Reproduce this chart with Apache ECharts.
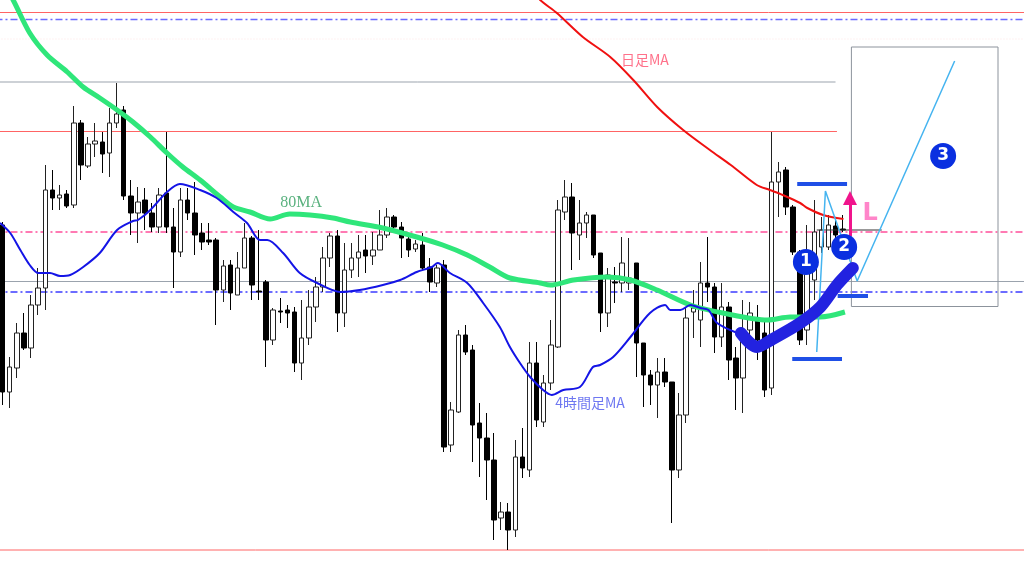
<!DOCTYPE html>
<html><head><meta charset="utf-8">
<script src="https://cdn.jsdelivr.net/npm/echarts@6/dist/echarts.min.js"></script>
<style>html,body{margin:0;padding:0;background:#fff}#c{width:1024px;height:576px}</style>
</head><body><div id="c"></div>
<script>
// Price axis is drawn inverted: values are "depth below the top reference" (larger = lower price).
const opens  = [225,392,368,333,348,305,288,190,198,194,205,123,166,144,142,153,123,110,196,213,200,213,227,193,227,252,200,213,233,240,240,290,265,295,268,238,291,282,340,311,310,312,363,338,307,287,258,236,313,270,258,250,256,250,235,217,227,239,249,245,267,283,265,445,412,335,350,423,438,460,518,512,530,457,470,363,422,383,347,212,197,235,223,215,253,313,282,283,283,263,343,375,385,372,382,470,415,312,320,283,287,337,307,358,378,330,318,333,388,182,170,207,252,330,280,247,247,226,229];
const closes = [392,367,333,348,305,288,190,198,195,206,123,165,144,141,154,123,114,196,213,202,213,227,195,227,252,200,213,235,242,242,290,266,293,268,238,285,292,340,310,312,313,363,338,307,287,258,236,313,270,258,252,256,250,235,217,227,238,250,244,268,282,268,447,410,335,352,425,438,460,520,512,530,457,468,363,420,383,345,210,197,233,223,215,255,313,275,283,263,278,343,375,385,372,382,470,415,318,308,283,287,337,307,360,378,332,313,340,390,182,172,207,252,340,270,232,230,225,235,230];
const highs  = [222,357,323,313,295,268,165,170,185,190,106,120,137,123,132,108,83,106,180,187,188,203,188,132,208,188,188,182,223,223,238,260,260,252,223,236,230,280,308,298,305,307,300,290,277,247,233,230,243,243,235,235,232,210,208,215,222,233,240,233,258,265,260,402,330,325,345,403,413,433,502,503,440,428,342,342,375,320,200,180,183,200,212,215,253,268,267,237,238,263,343,370,358,358,382,393,307,290,262,237,283,283,302,347,300,302,305,320,132,162,167,205,250,225,200,217,215,217,215];
const lows   = [405,408,378,350,358,315,310,210,210,208,208,180,168,157,173,177,128,200,235,243,230,232,233,233,288,257,220,255,250,245,325,302,310,295,268,300,300,367,345,323,328,372,380,345,322,292,267,332,327,278,277,273,265,250,238,233,258,257,252,270,292,287,452,452,413,355,462,477,500,540,530,550,537,478,477,427,427,390,348,220,270,260,238,258,332,327,303,292,290,377,407,405,418,387,523,478,423,338,347,302,353,347,380,410,413,347,360,397,395,217,215,255,345,345,300,253,250,240,232];

// Moving averages: [bar index, level]
const ma80 = [[-0.35,-22],[1.48,0],[3.81,33],[6.25,55],[9.08,72],[11.32,87],[13.65,98],[16.08,110],[18.31,122],[20.75,137],[23.08,153],[25.31,167],[27.74,180],[30.58,197],[32.41,207],[34.74,212],[37.58,219],[40.32,214],[43.16,215],[46.4,218],[48.84,222],[53.4,228],[58.16,237],[61.81,245],[65.26,255],[68.41,267],[71.25,278],[75.5,283],[76.92,285],[80.17,280],[84.84,277],[88.18,280],[91.93,290],[96.6,305],[101.16,313],[107.45,320],[110.59,317],[114.85,317],[118.3,312]];
const ma4h = [[-0.35,223],[1.07,233],[2.49,250],[3.81,265],[5.03,273],[6.65,273],[8.07,276],[9.49,275],[11.32,267],[13.65,253],[16.08,230],[18.31,221],[19.02,220],[20.75,210],[23.08,192],[24.9,184],[27.74,190],[30.07,198],[32.41,212],[34.33,223],[36.16,240],[37.17,240],[39.4,253],[41.74,273],[44.17,283],[47.42,292],[50.15,290],[53.4,285],[55.83,280],[58.16,272],[60.29,267],[61.1,263],[62.83,273],[65.26,283],[67.49,303],[69.83,327],[71.25,347],[72.66,363],[74.09,377],[75.91,390],[77.13,395],[78.75,390],[81.08,387],[82.91,367],[83.92,365],[85.75,357],[88.18,337],[90.92,313],[93.05,305],[93.76,310],[95.18,310],[96.6,305],[98.01,308],[99.13,310],[100.35,323],[103.19,333]];
const maDaily = [[75.2,-5],[75.5,0],[77.84,13],[81.49,37],[85.34,57],[88.58,80],[91.93,107],[95.58,130],[99.33,150],[102.27,165],[105.92,185],[107.75,190],[109.57,195],[112.01,203],[113.02,208],[115.25,215],[118.09,219]];

// Horizontal levels: [level, fromIndex, toIndex, colour, style]
const levels = [
  [12.5, -1, 145, '#ff6464', 'solid'],
  [19.5, -1, 145, '#6a6aff', 'dashdot'],
  [39, -1, 145, '#ffe4e4', 'dotted'],
  [82, -1, 116.98, '#9ba3ad', 'solid'],
  [131.5, -1, 117.18, '#ff6464', 'solid'],
  [232, -1, 145, '#ff4f9a', 'dashdot'],
  [281.5, -1, 145, '#9ba3ad', 'solid'],
  [292, -1, 145, '#3c3cff', 'dashdot'],
  [550, -1, 145, '#ff6464', 'solid']
];

// Annotations
const boxPath = [[119.21,47],[139.8,47],[139.8,306.5],[119.21,306.5],[119.21,47]];
const scenario = [[114.34,352],[115.56,191],[120.02,281],[133.71,61]];
const trendStroke = [[103.69,333],[105.92,347],[108.16,339],[112.01,323],[114.85,307],[117.18,285],[119.41,268]];
const bars = [[184,111.6,118.6],[296,117.28,121.54],[359,110.9,117.89]];
const lastPrice = [230, 114.34, 123.47];
const marks = [['1',112.82,262],['2',118.19,247],['3',132.09,156]];
const arrow = [[119.01,236],[119.01,198]];
const labels = [['日足MA',90.21,60,'#ff4d6d',14,'Noto Sans CJK JP'],['80MA',41.94,203,'#2f9e5e',16,'Liberation Serif'],['4時間足MA',82.5,403,'#4a55ee',14,'Noto Sans CJK JP'],['L',121.84,214,'#ff66bb',24,'DejaVu Sans']];

const candleData = opens.map((o,i)=>[i,o,closes[i],highs[i],lows[i]]);
const dashMap = {solid:'solid',dashdot:[7,3,2,3],dotted:[1,2]};
const series = [];
levels.forEach(l=>{
  series.push({type:'line',data:[[l[1],l[0]],[l[2],l[0]]],symbol:'none',silent:true,z:1,
    lineStyle:{color:l[3],width:l[4]==='dashdot'?1.3:1,type:dashMap[l[4]]}});
});
series.push({type:'candlestick',data:candleData,encode:{x:0,y:[1,2,3,4]},barWidth:5,z:3,
  itemStyle:{color:'#000',color0:'#fff',borderColor:'#000',borderColor0:'#222',borderWidth:1}});
series.push({type:'line',data:ma80,symbol:'none',smooth:0.3,z:4,lineStyle:{color:'#2fe67a',width:5}});
series.push({type:'line',data:ma4h,symbol:'none',smooth:0.3,z:5,lineStyle:{color:'#1414e6',width:2}});
series.push({type:'line',data:maDaily,symbol:'none',smooth:0.3,z:5,lineStyle:{color:'#f01010',width:2}});
series.push({type:'line',data:boxPath,symbol:'none',z:6,lineStyle:{color:'#8c939c',width:1}});
series.push({type:'line',data:[[lastPrice[1],lastPrice[0]],[lastPrice[2],lastPrice[0]]],symbol:'none',z:6,lineStyle:{color:'#333',width:1}});
series.push({type:'line',data:scenario,symbol:'none',z:7,lineStyle:{color:'#45b4f0',width:1.5}});
series.push({type:'line',data:trendStroke,symbol:'none',smooth:0.3,z:8,lineStyle:{color:'#2222e0',width:12,cap:'round',join:'round'}});
bars.forEach(b=>{
  series.push({type:'line',data:[[b[1],b[0]],[b[2],b[0]]],symbol:'none',z:8,lineStyle:{color:'#1f4fe6',width:4}});
});
series.push({type:'lines',coordinateSystem:'cartesian2d',z:9,symbol:['none','triangle'],symbolSize:[13,14],
  data:[{coords:arrow}],lineStyle:{color:'#f0148c',width:3,opacity:1}});
series.push({type:'scatter',z:10,symbol:'circle',symbolSize:26,
  itemStyle:{color:'#0a2fe0',opacity:1},
  data:marks.map(m=>({value:[m[1],m[2]],name:m[0]})),
  label:{show:true,position:'inside',formatter:p=>p.name,
    color:'#fff',fontSize:17,fontWeight:'bold',fontFamily:'DejaVu Sans'}});
series.push({type:'scatter',z:10,symbolSize:0,
  data:labels.map(t=>({value:[t[1],t[2]],name:t[0],label:{color:t[3],fontSize:t[4],fontFamily:t[5],fontWeight:t[0]==='L'?'bold':'normal'}})),
  label:{show:true,position:'inside',formatter:p=>p.name}});

const chart = echarts.init(document.getElementById('c'));
chart.setOption({
  animation:false,
  backgroundColor:'#fff',
  grid:{left:0,right:0,top:0,bottom:0},
  xAxis:{type:'value',min:-0.365,max:143.45,show:false},
  yAxis:{type:'value',inverse:true,min:0,max:576,show:false},
  series
});
</script></body></html>
